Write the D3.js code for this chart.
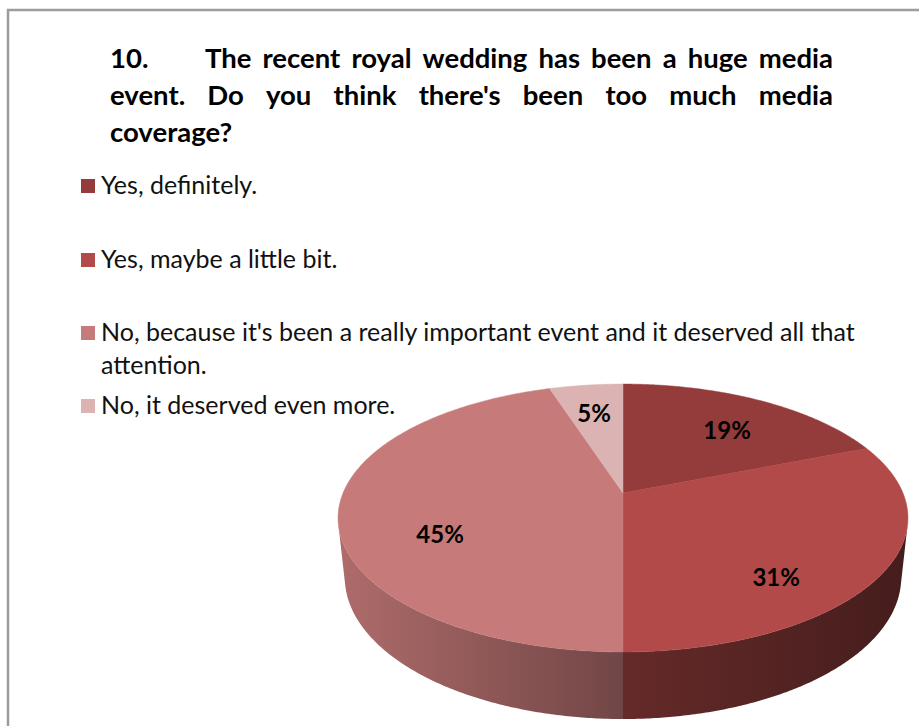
<!DOCTYPE html>
<html>
<head>
<meta charset="utf-8">
<script src="https://cdn.jsdelivr.net/npm/d3@7"></script>
<style>
  html, body { margin: 0; padding: 0; background: #fff; }
  svg { display: block; }
</style>
</head>
<body>
<svg id="chart" width="919" height="726"></svg>
<script>
// ---- data ----
const categories = [
  "Yes, definitely.",
  "Yes, maybe a little bit.",
  "No, because it's been a really important event and it deserved all that attention.",
  "No, it deserved even more."
];
const shares = [19, 31, 45, 5];
const sliceColors = ["#943b3b", "#b14a48", "#c67b7a", "#dbb3b2"];
const titleNumber = "10.";
const titleLines = [
  "The recent royal wedding has been a huge media",
  "event. Do you think there's been too much media",
  "coverage?"
];

// ---- setup ----
const svg = d3.select("#chart");
const W = 919, H = 726;
const FONT = "Lato, 'Open Sans', sans-serif";

// frame (open on the right and bottom)
svg.append("path")
  .attr("d", `M8,${H} V10 H${W}`)
  .attr("fill", "none")
  .attr("stroke", "#9c9c9c")
  .attr("stroke-width", 2.5);

// ---- title, justified ----
const titleG = svg.append("g")
  .attr("font-family", FONT)
  .attr("font-weight", "bold")
  .attr("font-size", 27.5)
  .attr("fill", "#000");

function measure(g, str) {
  const t = g.append("text").text(str);
  const w = t.node().getComputedTextLength();
  t.remove();
  return w;
}
function justifyLine(g, str, x0, x1, y) {
  const words = str.split(" ");
  const widths = words.map(w => measure(g, w));
  const total = d3.sum(widths);
  const gap = words.length > 1 ? (x1 - x0 - total) / (words.length - 1) : 0;
  let x = x0;
  const t = g.append("text").attr("y", y);
  words.forEach((w, i) => {
    t.append("tspan").attr("x", x).text(w);
    x += widths[i] + gap;
  });
}
const titleLeft = 110, titleTab = 205, titleRight = 833;
const titleBase = [68, 105, 142];
titleG.append("text").attr("x", titleLeft).attr("y", titleBase[0]).text(titleNumber);
justifyLine(titleG, titleLines[0], titleTab, titleRight, titleBase[0]);
justifyLine(titleG, titleLines[1], titleLeft, titleRight, titleBase[1]);
titleG.append("text").attr("x", titleLeft).attr("y", titleBase[2]).text(titleLines[2]);

// ---- legend ----
const legendG = svg.append("g")
  .attr("font-family", FONT)
  .attr("font-size", 25)
  .attr("fill", "#111");
const legendX = 101, legendMaxW = 770, lineGap = 33;
const legendBase = [194, 268, 341, 414];

categories.forEach((label, i) => {
  // wrap words to the legend width
  const words = label.split(" ");
  const lines = [];
  let cur = "";
  words.forEach(w => {
    const test = cur ? cur + " " + w : w;
    if (measure(legendG, test) > legendMaxW && cur) { lines.push(cur); cur = w; }
    else cur = test;
  });
  if (cur) lines.push(cur);

  const y0 = legendBase[i];
  legendG.append("rect")
    .attr("x", 81).attr("y", y0 - 15)
    .attr("width", 14).attr("height", 14)
    .attr("fill", sliceColors[i]);
  const t = legendG.append("text").attr("y", y0);
  lines.forEach((ln, j) => {
    t.append("tspan").attr("x", legendX).attr("y", y0 + j * lineGap).text(ln);
  });
});

// ---- 3D pie ----
const cam = {
  cx: 623, cy: 493,      // screen position of the pie centre
  f: 1330,               // focal scale
  dist: 4.751,           // camera distance, in pie radii
  tilt: Math.asin(0.4618),
  depth: 0.241           // pie thickness, in pie radii
};
const sinA = Math.sin(cam.tilt), cosA = Math.cos(cam.tilt);

// world: X right, Y up, Z toward the viewer; radius 1
function project(X, Y, Z) {
  const zc = cam.dist - Z * cosA - Y * sinA;
  return [cam.cx + cam.f * X / zc, cam.cy + cam.f * (Z * sinA - Y * cosA) / zc];
}
// rim point for pie angle a (clockwise from 12 o'clock)
const rim = (a, y) => project(Math.sin(a), y, -Math.cos(a));

const pie = d3.pie().sort(null).value(d => d)
  .startAngle(0).endAngle(2 * Math.PI);
const arcs = pie(shares);

function sampleAngles(a0, a1) {
  const n = Math.max(2, Math.ceil((a1 - a0) / (Math.PI / 360)));
  return d3.range(n + 1).map(k => a0 + (a1 - a0) * k / n);
}

// rim bounds on screen (for the wall shading and label placement)
const rimPts = sampleAngles(0, 2 * Math.PI).map(a => rim(a, 0));
const xMin = d3.min(rimPts, p => p[0]), xMax = d3.max(rimPts, p => p[0]);
const yMin = d3.min(rimPts, p => p[1]), yMax = d3.max(rimPts, p => p[1]);

// visible side wall: outward normal faces the camera
const cosLimit = -1 / (cam.dist * cosA);
const visA0 = Math.acos(cosLimit), visA1 = 2 * Math.PI - visA0;

const defs = svg.append("defs");
const shade = d3.scaleLinear().domain([0, 0.5, 1]).range([0.88, 0.57, 0.39]);

const line = d3.line();
const pieG = svg.append("g");

// side walls
arcs.forEach((d, i) => {
  const a0 = Math.max(d.startAngle, visA0), a1 = Math.min(d.endAngle, visA1);
  if (a1 <= a0) return;
  const base = d3.rgb(sliceColors[i]);
  const grad = defs.append("linearGradient")
    .attr("id", "wall" + i)
    .attr("gradientUnits", "userSpaceOnUse")
    .attr("x1", xMin).attr("x2", xMax).attr("y1", 0).attr("y2", 0);
  [0, 0.25, 0.5, 0.75, 1].forEach(s => {
    const k = shade(s);
    grad.append("stop").attr("offset", s)
      .attr("stop-color", d3.rgb(base.r * k, base.g * k, base.b * k).formatHex());
  });
  const angles = sampleAngles(a0, a1);
  const pts = angles.map(a => rim(a, 0))
    .concat(angles.slice().reverse().map(a => rim(a, -cam.depth)));
  pieG.append("path")
    .attr("d", line(pts) + "Z")
    .attr("fill", `url(#wall${i})`);
});

// top faces
arcs.forEach((d, i) => {
  const pts = [project(0, 0, 0)].concat(sampleAngles(d.startAngle, d.endAngle).map(a => rim(a, 0)));
  pieG.append("path")
    .attr("d", line(pts) + "Z")
    .attr("fill", sliceColors[i])
    .attr("stroke", sliceColors[i])
    .attr("stroke-width", 0.5);
});

// percentage labels
const lcx = (xMin + xMax) / 2, lcy = (yMin + yMax) / 2;
const lrx = 0.65 * (xMax - xMin) / 2, lry = 0.79 * (yMax - yMin) / 2;
pieG.append("g")
  .attr("font-family", FONT)
  .attr("font-weight", "bold")
  .attr("font-size", 24)
  .attr("text-anchor", "middle")
  .attr("fill", "#000")
  .selectAll("text")
  .data(arcs)
  .join("text")
  .attr("x", d => lcx + lrx * Math.sin((d.startAngle + d.endAngle) / 2))
  .attr("y", d => lcy - lry * Math.cos((d.startAngle + d.endAngle) / 2))
  .attr("dy", "0.35em")
  .text(d => d.data + "%");
</script>
</body>
</html>
